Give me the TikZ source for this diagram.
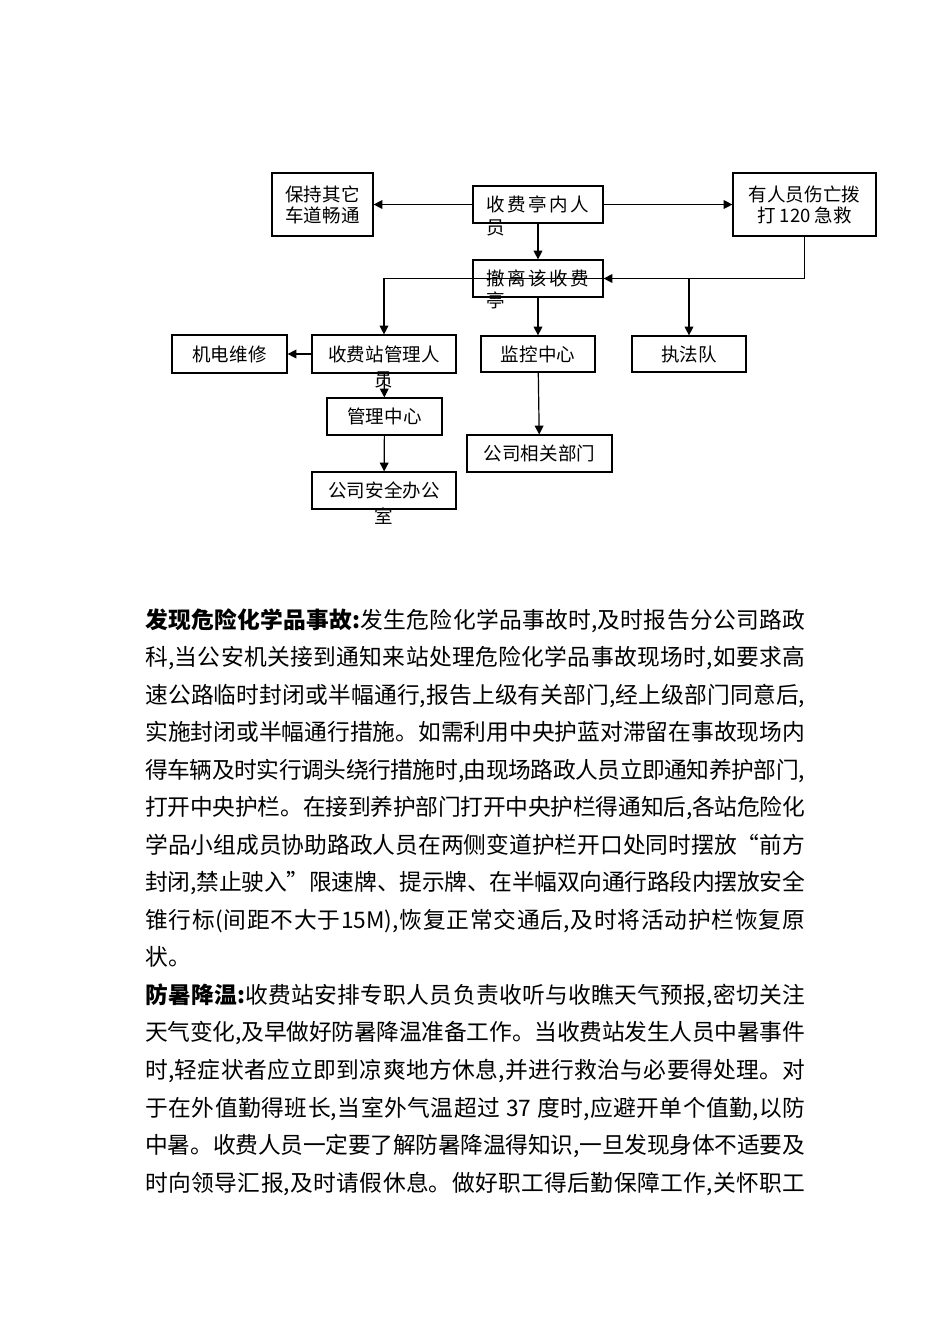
\documentclass[tikz,border=0pt]{standalone}
\usepackage{fontspec}
\setmainfont{Noto Sans CJK SC}
\usetikzlibrary{arrows.meta}
\XeTeXlinebreaklocale "zh"
\XeTeXlinebreakskip=0pt plus 1pt minus 0.3pt
\newcommand{\gap}{\hspace{1.6pt}}

\tikzset{
  flowbox/.style={draw, line width=0.75pt, inner sep=0pt, align=center, font=\fontsize{11.6pt}{13.2pt}\selectfont},
  spill/.style={inner sep=0pt, font=\fontsize{11.6pt}{13.2pt}\selectfont},
  arr/.style={line width=0.75pt, -{Triangle[length=5.5pt,width=5.5pt]}},
  bodytext/.style={inner sep=0pt, text width=413.5pt, align=justify, font=\fontsize{14.25pt}{23.52pt}\selectfont}
}

\begin{document}
\begin{tikzpicture}[x=0.6266pt,y=-0.6266pt]
\useasboundingbox (0,0) rectangle (950,1344);
\node[flowbox, minimum width=63.3pt, minimum height=39.5pt] (keep) at (322.5,204.5) {保持其它\\车道畅通};
\node[flowbox, minimum width=81.5pt, minimum height=23.2pt] (kiosk) at (538,204.5) {收\gap 费\gap 亭\gap 内\gap 人};
\node[flowbox, minimum width=89.6pt, minimum height=39.5pt] (injury) at (804.5,204.5) {有人员伤亡拨\\打 120 急救};
\node[flowbox, minimum width=81.5pt, minimum height=23.2pt] (evac) at (538,278.5) {撤\gap 离\gap 该\gap 收\gap 费};
\node[flowbox, minimum width=72.1pt, minimum height=23.8pt] (mech) at (229.5,354) {机电维修};
\node[flowbox, minimum width=90.2pt, minimum height=23.8pt] (stmgr) at (384,354) {收费站管理人};
\node[flowbox, minimum width=71.4pt, minimum height=22.6pt] (monitor) at (538,354) {监控中心};
\node[flowbox, minimum width=71.4pt, minimum height=22.6pt] (police) at (689,354) {执法队};
\node[flowbox, minimum width=72.1pt, minimum height=23.2pt] (mgmt) at (384.5,416.5) {管理中心};
\node[flowbox, minimum width=90.9pt, minimum height=23.2pt] (dept) at (539.5,453.5) {公司相关部门};
\node[flowbox, minimum width=90.2pt, minimum height=23.2pt] (safety) at (384,490.5) {公司安全办公};
\node[spill, anchor=west] (kioskmore) at ([shift={(14,4)}]kiosk.south west) {员};
\node[spill, anchor=west] (evacmore) at ([shift={(14,3)}]evac.south west) {亭};
\node[spill] (stmgrmore) at ([shift={(0,6)}]stmgr.south) {员};
\node[spill] (safetymore) at ([shift={(0,6)}]safety.south) {室};
\draw[arr] (kiosk) -- (keep);
\draw[arr] (kiosk) -- (injury);
\draw[arr] (kiosk) -- (evac);
\draw[arr] (injury.south) |- (evac.east);
\draw[arr] (evac.center) -| (stmgr.north);
\draw[arr] (evac.center) -| (police.north);
\draw[arr] (evac) -- (monitor);
\draw[arr] (stmgr) -- (mech);
\draw[arr] (stmgr) -- (mgmt);
\draw[arr] (mgmt) -- (safety);
\draw[arr] (monitor) -- (dept);
\node[bodytext, anchor=north west] (hazard) at (145,608) {\parindent=0pt
{\bfseries 发现危险化学品事故:}发生危险化学品事故时,及时报告分公司路政\linebreak
科,当公安机关接到通知来站处理危险化学品事故现场时,如要求高\linebreak
速公路临时封闭或半幅通行,报告上级有关部门,经上级部门同意后,\linebreak
实施封闭或半幅通行措施。如需利用中央护蓝对滞留在事故现场内\linebreak
得车辆及时实行调头绕行措施时,由现场路政人员立即通知养护部门,\linebreak
打开中央护栏。在接到养护部门打开中央护栏得通知后,各站危险化\linebreak
学品小组成员协助路政人员在两侧变道护栏开口处同时摆放“前方\linebreak
封闭,禁止驶入”限速牌、提示牌、在半幅双向通行路段内摆放安全\linebreak
锥行标(间距不大于15M),恢复正常交通后,及时将活动护栏恢复原\linebreak
状。\par
{\bfseries 防暑降温:}收费站安排专职人员负责收听与收瞧天气预报,密切关注\linebreak
天气变化,及早做好防暑降温准备工作。当收费站发生人员中暑事件\linebreak
时,轻症状者应立即到凉爽地方休息,并进行救治与必要得处理。对\linebreak
于在外值勤得班长,当室外气温超过 37 度时,应避开单个值勤,以防\linebreak
中暑。收费人员一定要了解防暑降温得知识,一旦发现身体不适要及\linebreak
时向领导汇报,及时请假休息。做好职工得后勤保障工作,关怀职工\parfillskip=0pt\par};
\end{tikzpicture}
\end{document}
